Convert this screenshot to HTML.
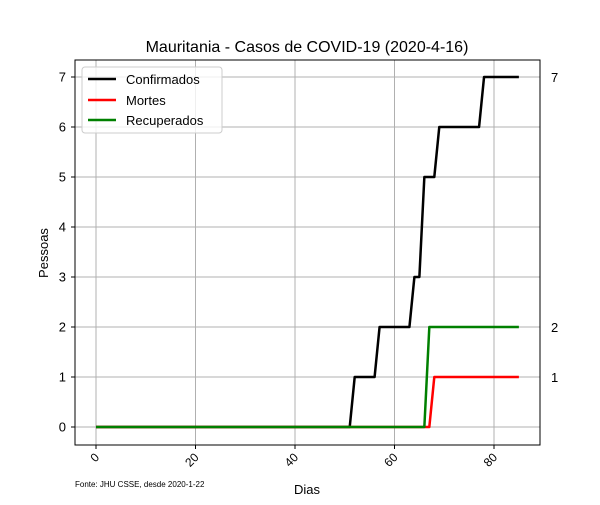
<!DOCTYPE html>
<html><head><meta charset="utf-8"><style>
body{margin:0;background:#fff}
svg{font-family:"Liberation Sans","DejaVu Sans",sans-serif}
</style></head><body>
<svg id="c" width="600" height="500" xmlns="http://www.w3.org/2000/svg">
<rect width="600" height="500" fill="#fff"/>
<text x="307" y="52" font-size="16" text-anchor="middle">Mauritania - Casos de COVID-19 (2020-4-16)</text>
<g id="grid"></g><g id="ticks"></g><g id="series"></g>
<rect x="75" y="60" width="465" height="385" fill="none" stroke="#000" stroke-width="1"/>
<text x="307" y="494" font-size="13" text-anchor="middle">Dias</text>
<text x="48" y="253" font-size="13" text-anchor="middle" transform="rotate(-90 48 253)">Pessoas</text>
<text x="75" y="487" font-size="8">Fonte: JHU CSSE, desde 2020-1-22</text>
<g>
<rect x="82" y="67" width="140" height="66" rx="3" fill="#fff" fill-opacity="0.8" stroke="#ccc"/>
<line x1="88" y1="79" x2="116" y2="79" stroke="#000" stroke-width="2.5"/>
<text x="126" y="84" font-size="13">Confirmados</text>
<line x1="88" y1="100" x2="116" y2="100" stroke="#f00" stroke-width="2.5"/>
<text x="126" y="105" font-size="13">Mortes</text>
<line x1="88" y1="120" x2="116" y2="120" stroke="#008000" stroke-width="2.5"/>
<text x="126" y="125" font-size="13">Recuperados</text>
</g>
<g id="endlabels"></g>
</svg>
<script>
const confirmados=[0,0,0,0,0,0,0,0,0,0,0,0,0,0,0,0,0,0,0,0,0,0,0,0,0,0,0,0,0,0,0,0,0,0,0,0,0,0,0,0,0,0,0,0,0,0,0,0,0,0,0,0,1,1,1,1,1,2,2,2,2,2,2,2,3,3,5,5,5,6,6,6,6,6,6,6,6,6,7,7,7,7,7,7,7,7];
const mortes=[0,0,0,0,0,0,0,0,0,0,0,0,0,0,0,0,0,0,0,0,0,0,0,0,0,0,0,0,0,0,0,0,0,0,0,0,0,0,0,0,0,0,0,0,0,0,0,0,0,0,0,0,0,0,0,0,0,0,0,0,0,0,0,0,0,0,0,0,1,1,1,1,1,1,1,1,1,1,1,1,1,1,1,1,1,1];
const recuperados=[0,0,0,0,0,0,0,0,0,0,0,0,0,0,0,0,0,0,0,0,0,0,0,0,0,0,0,0,0,0,0,0,0,0,0,0,0,0,0,0,0,0,0,0,0,0,0,0,0,0,0,0,0,0,0,0,0,0,0,0,0,0,0,0,0,0,0,2,2,2,2,2,2,2,2,2,2,2,2,2,2,2,2,2,2,2];
const xTicks=[0,20,40,60,80];
const yTicks=[0,1,2,3,4,5,6,7];
const NS="http://www.w3.org/2000/svg";
const X=d=>96+d*(494-96)/80;
const Y=v=>427-v*50;
function mk(p,t,a){const e=document.createElementNS(NS,t);for(const k in a)e.setAttribute(k,a[k]);p.appendChild(e);return e;}
const grid=document.getElementById('grid'),ticks=document.getElementById('ticks'),ser=document.getElementById('series'),el=document.getElementById('endlabels');
xTicks.forEach(t=>{
 const g=mk(grid,'line',{x1:X(t),x2:X(t),y1:60,y2:445,stroke:'#b0b0b0','stroke-width':1});
 
 
 mk(ticks,'line',{x1:X(t),x2:X(t),y1:445,y2:449,stroke:'#000'});
 const tx=mk(ticks,'text',{x:X(t)+4,y:458,'font-size':12,'text-anchor':'end',transform:`rotate(-45 ${X(t)+4} 458)`});
 tx.textContent=t;
 
 
});
yTicks.forEach(t=>{
 const g=mk(grid,'line',{x1:75,x2:540,y1:Y(t),y2:Y(t),stroke:'#b0b0b0','stroke-width':1});
 
 
 mk(ticks,'line',{x1:71,x2:75,y1:Y(t),y2:Y(t),stroke:'#000'});
 const tx=mk(ticks,'text',{x:66,y:Y(t)+4.5,'font-size':13,'text-anchor':'end'});
 tx.textContent=t;
 
 
});
[[confirmados,'#000','line-confirmados'],[mortes,'#f00','line-mortes'],[recuperados,'#008000','line-recuperados']].forEach(([d,c,n])=>{
 const p=mk(ser,'polyline',{points:d.map((v,i)=>X(i)+','+Y(v)).join(' '),fill:'none',stroke:c,'stroke-width':2.5,'stroke-linejoin':'round'});
 
 
 const last=d[d.length-1];
 const t=mk(el,'text',{x:551,y:Y(last)+5,'font-size':13});
 t.textContent=last;
 
 
});
</script>
</body></html>
